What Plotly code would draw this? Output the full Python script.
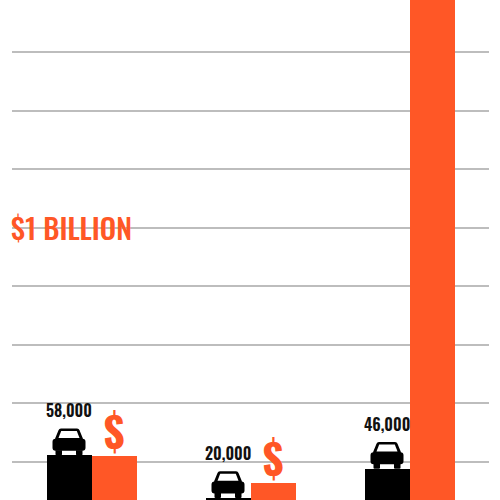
import plotly.graph_objects as go

# ---- data ----
categories = ["Group 1", "Group 2", "Group 3"]
cars = [58000, 20000, 46000]          # black bars (count, right scale)
dollars_billion = [0.22, 0.13, 2.0]   # orange bars (billions of $)
car_labels = ["58,000", "20,000", "46,000"]

ORANGE = "#FF5726"
BLACK = "#000000"
GRID = "#BDBDBD"
COND = "Oswald, 'Roboto Condensed', sans-serif"

Y_RANGE = [0.0703, 1.7774]            # billions shown in the frame
CARS_PER_BILLION = 260000             # shared visual scale for car counts
BW = 0.283                            # bar width (category units)

fig = go.Figure()
fig.add_trace(go.Bar(x=categories, y=cars, yaxis="y2", width=BW, offset=-BW,
                     marker=dict(color=BLACK, line=dict(width=0)), hoverinfo="skip"))
fig.add_trace(go.Bar(x=categories, y=dollars_billion, width=BW, offset=0,
                     marker=dict(color=ORANGE, line=dict(width=0)), hoverinfo="skip"))

# car icon (pixel offsets from anchor: centre-x, bottom of icon, y up)
car_body = ("M -16.5,7.5 Q -16.5,4.5 -13.5,4.5 L 13.5,4.5 Q 16.5,4.5 16.5,7.5 L 16.5,13.5 "
            "Q 16.5,16.5 13.5,16.5 L 14,16.5 L 10.5,25 Q 10,26.8 8,26.8 L -8,26.8 "
            "Q -10,26.8 -10.5,25 L -14,16.5 L -13.5,16.5 Q -16.5,16.5 -16.5,13.5 Z")
wheel_l = "M -13.5,5 L -13.5,1 Q -13.5,0 -12.5,0 L -8,0 Q -7,0 -7,1 L -7,5 Z"
wheel_r = "M 7,5 L 7,1 Q 7,0 8,0 L 12.5,0 Q 13.5,0 13.5,1 L 13.5,5 Z"
window = "M -10.5,17.3 L -7.8,24.2 L 7.8,24.2 L 10.5,17.3 Z"
def circle(cx, cy, r):
    return (f"M {cx-r},{cy} A {r},{r} 0 1,0 {cx+r},{cy} A {r},{r} 0 1,0 {cx-r},{cy} Z")

shapes = []
for i, c in enumerate(cars):
    xa = i - BW / 2
    for p, col in [(car_body, BLACK), (wheel_l, BLACK), (wheel_r, BLACK),
                   (window, "white"), (circle(-11.3, 10.5, 2.3), "white"),
                   (circle(11.3, 10.5, 2.3), "white")]:
        shapes.append(dict(type="path", xref="x", yref="y2", xsizemode="pixel",
                           ysizemode="pixel", xanchor=xa, yanchor=c, path=p,
                           fillcolor=col, line=dict(width=0), layer="above"))

annotations = []
for i, (c, lab) in enumerate(zip(cars, car_labels)):
    annotations.append(dict(x=i - BW / 2, y=c, xref="x", yref="y2", text=lab,
                            showarrow=False, yanchor="bottom", yshift=31,
                            font=dict(family=COND, size=16, weight=600, color="#111111")))
for i, d in enumerate(dollars_billion):
    if d < Y_RANGE[1]:
        annotations.append(dict(x=i + BW / 2, y=d, xref="x", yref="y", text="$",
                                showarrow=False, yanchor="bottom", yshift=-7,
                                font=dict(family=COND, size=42, weight=700, color=ORANGE)))
annotations.append(dict(x=-0.5, y=1.0, xref="x", yref="y", text="$1 BILLION",
                        showarrow=False, xanchor="left", yanchor="middle", xshift=-3, yshift=1,
                        font=dict(family=COND, size=29, weight=500, color=ORANGE)))

fig.update_layout(
    width=500, height=500, margin=dict(l=12, r=11, t=0, b=0),
    paper_bgcolor="white", plot_bgcolor="white", showlegend=False,
    barmode="overlay", bargap=0,
    xaxis=dict(range=[-0.5, 2.5], showticklabels=False, showgrid=False, zeroline=False,
               showline=False, ticks=""),
    yaxis=dict(range=Y_RANGE, dtick=0.2, tick0=0, showgrid=True, gridcolor=GRID, gridwidth=1.5,
               showticklabels=False, zeroline=False, showline=False, ticks=""),
    yaxis2=dict(range=[r * CARS_PER_BILLION for r in Y_RANGE], overlaying="y", side="right",
                showgrid=False, showticklabels=False, zeroline=False, showline=False, ticks=""),
    shapes=shapes, annotations=annotations,
)
fig.write_html("out.html", config={"displayModeBar": False},
               post_script="document.body.style.margin='0';")
